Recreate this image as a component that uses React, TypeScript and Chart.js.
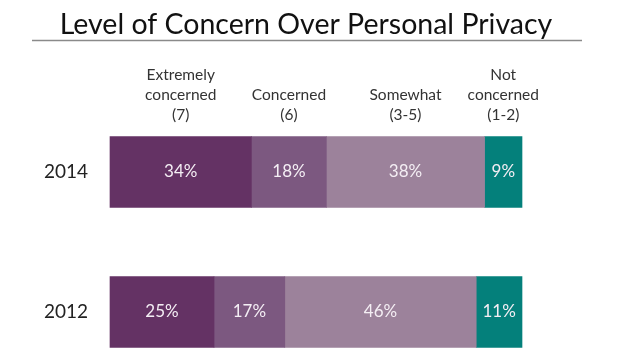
import React, { useEffect, useRef } from "react";
import { Chart, registerables } from "chart.js";

Chart.register(...registerables);

const years = ["2014", "2012"];
const extremely = [34, 25];
const concerned = [18, 17];
const somewhat = [38, 46];
const notConcerned = [9, 11];
const seriesNames = [
  ["Extremely", "concerned", "(7)"],
  ["Concerned", "(6)"],
  ["Somewhat", "(3-5)"],
  ["Not", "concerned", "(1-2)"],
];
const titleText = "Level of Concern Over Personal Privacy";
const colors = ["#643264", "#7c5880", "#9c829b", "#04807b"];
const FONT = "Lato, 'Open Sans', sans-serif";

const overlayPlugin = {
  id: "overlay",
  afterDraw(chart: any) {
    const ctx = chart.ctx;
    ctx.save();
    // title
    ctx.fillStyle = "#111";
    ctx.font = `28.5px ${FONT}`;
    ctx.textAlign = "center";
    ctx.textBaseline = "alphabetic";
    ctx.fillText(titleText, 306, 34);
    ctx.strokeStyle = "#8a8a8a";
    ctx.lineWidth = 1.5;
    ctx.beginPath();
    ctx.moveTo(32, 40.5);
    ctx.lineTo(582, 40.5);
    ctx.stroke();

    // headers above first row segments
    ctx.font = `15.5px ${FONT}`;
    ctx.fillStyle = "#333";
    ctx.textBaseline = "middle";
    chart.data.datasets.forEach((ds: any, i: number) => {
      const meta = chart.getDatasetMeta(i);
      const el = meta.data[0];
      const cx = (el.x + el.base) / 2;
      const lines = seriesNames[i];
      lines.forEach((ln: string, j: number) => {
        const y = 115 - (lines.length - 1 - j) * 20;
        ctx.fillText(ln, cx, y);
      });
    });

    // value labels
    ctx.font = `17px ${FONT}`;
    ctx.fillStyle = "#f4eef4";
    chart.data.datasets.forEach((ds: any, i: number) => {
      const meta = chart.getDatasetMeta(i);
      meta.data.forEach((el: any, k: number) => {
        const cx = (el.x + el.base) / 2;
        ctx.fillText(ds.data[k] + "%", cx, el.y);
      });
    });
    ctx.restore();
  },
};

export default function App() {
  const ref = useRef<HTMLCanvasElement>(null);
  useEffect(() => {
    const data = [extremely, concerned, somewhat, notConcerned];
    const chart = new Chart(ref.current!, {
      type: "bar",
      data: {
        labels: years,
        datasets: data.map((d, i) => ({
          label: seriesNames[i].join(" "),
          data: d,
          backgroundColor: colors[i],
          borderWidth: 0,
          barThickness: 71,
          clip: false as any,
        })),
      },
      options: {
        indexAxis: "y",
        responsive: false,
        animation: false,
        maintainAspectRatio: false,
        layout: { padding: { top: 172, bottom: 37, right: 98, left: 0 } },
        plugins: { legend: { display: false }, tooltip: { enabled: false }, title: { display: false } },
        scales: {
          x: { stacked: true, min: 0, max: 99, display: false },
          y: {
            stacked: true,
            offset: false,
            grid: { display: false, drawTicks: false },
            border: { display: false },
            ticks: { color: "#222", font: { family: FONT, size: 19 }, padding: 22 },
            afterFit: (scale: any) => {
              scale.width = 110;
            },
          },
        },
      },
      plugins: [overlayPlugin],
    });
    return () => chart.destroy();
  }, []);
  return (
    <div style={{ position: "fixed", left: 0, top: 0, width: 620, height: 349, background: "#fff" }}>
      <canvas ref={ref} width={620} height={349} style={{ display: "block" }} />
    </div>
  );
}
